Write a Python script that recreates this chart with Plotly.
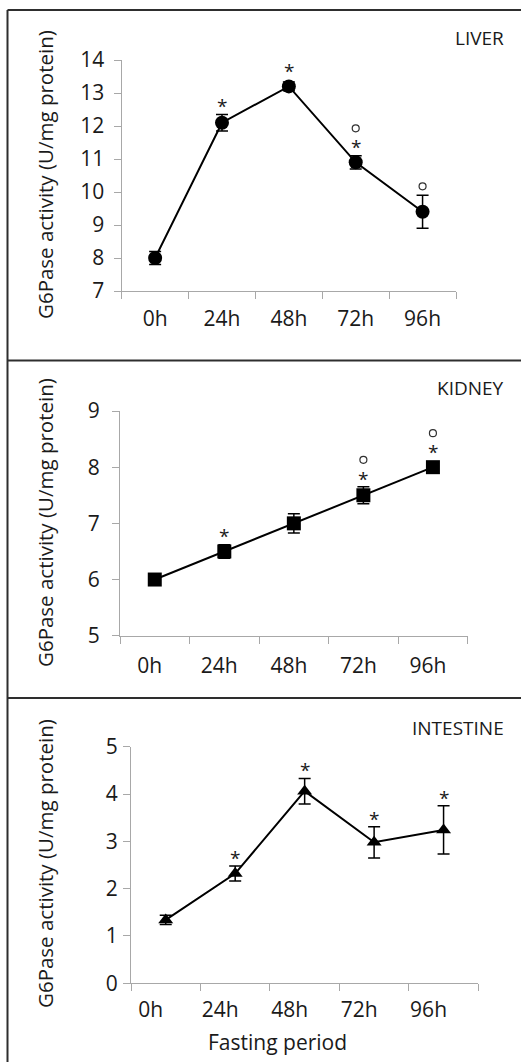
import plotly.graph_objects as go

# ---- data -------------------------------------------------------------
hours = ["0h", "24h", "48h", "72h", "96h"]

liver_mean = [8.0, 12.1, 13.2, 10.9, 9.4]
liver_err = [0.2, 0.25, 0.13, 0.2, 0.5]
liver_star = [0, 1, 1, 1, 0]
liver_circ = [0, 0, 0, 1, 1]

kidney_mean = [6.0, 6.5, 7.0, 7.5, 8.0]
kidney_err = [0.05, 0.12, 0.17, 0.15, 0.05]
kidney_star = [0, 1, 0, 1, 1]
kidney_circ = [0, 0, 0, 1, 1]

intestine_mean = [1.34, 2.32, 4.06, 2.98, 3.24]
intestine_err = [0.1, 0.16, 0.27, 0.33, 0.51]
intestine_star = [0, 1, 1, 1, 1]
intestine_circ = [0, 0, 0, 0, 0]

y_title = "G6Pase activity (U/mg protein)"

# ---- page geometry (pixels) -------------------------------------------
W, H = 521, 1062
FONT = "Open Sans"
TXT = "#1a1a1a"
AXIS = "#a8a8a8"


def px(x):
    return x / W


def py(y):
    return 1 - y / H


panels = [
    dict(name="LIVER", mean=liver_mean, err=liver_err, star=liver_star,
         circ=liver_circ, symbol="circle", yrange=[7, 14],
         box=(121.7, 456, 60, 291), tshift=0, ystand=5, xstand=9,
         title_y=175, label_y=38),
    dict(name="KIDNEY", mean=kidney_mean, err=kidney_err, star=kidney_star,
         circ=kidney_circ, symbol="square", yrange=[5, 9],
         box=(120, 467.7, 411, 635.7), tshift=-5, ystand=8, xstand=11,
         title_y=523, label_y=388),
    dict(name="INTESTINE", mean=intestine_mean, err=intestine_err,
         star=intestine_star, circ=intestine_circ, symbol="triangle-up",
         yrange=[0, 5], box=(131, 478.3, 746.7, 983.3), tshift=-15,
         ystand=1, xstand=7, title_y=864, label_y=728),
]

fig = go.Figure()
annotations = []

for k, p in enumerate(panels, start=1):
    xa = "x" if k == 1 else f"x{k}"
    ya = "y" if k == 1 else f"y{k}"
    x0, x1, y0, y1 = p["box"]
    msize = 13 if p["symbol"] == "triangle-up" else 14
    fig.add_trace(go.Scatter(
        x=hours, y=p["mean"], xaxis=xa, yaxis=ya,
        mode="lines+markers",
        line=dict(color="black", width=2),
        marker=dict(symbol=p["symbol"], size=msize, color="black"),
        error_y=dict(type="data", array=p["err"], visible=True,
                     color="black", thickness=1.5, width=6),
        showlegend=False, cliponaxis=False,
    ))

    lo, hi = p["yrange"]
    ppu = (y1 - y0) / (hi - lo)  # pixels per data unit
    cx, cy = [], []
    for i, h in enumerate(hours):
        top = max(p["err"][i] * ppu, 7)
        if p["star"][i]:
            annotations.append(dict(
                x=h, y=p["mean"][i], xref=xa, yref=ya, text="*",
                showarrow=False, yshift=top + 8, yanchor="middle",
                font=dict(family=FONT, size=19, color=TXT)))
        if p["circ"][i]:
            shift = top + 27 if p["star"][i] else top + 9
            cx.append(h)
            cy.append(p["mean"][i] + shift / ppu)
    if cx:
        # "vs. 48h" markers drawn as small open rings
        fig.add_trace(go.Scatter(
            x=cx, y=cy, xaxis=xa, yaxis=ya, mode="markers",
            marker=dict(symbol="circle-open", size=7, color="#303030",
                        line=dict(width=1.2, color="#303030")),
            showlegend=False, cliponaxis=False, hoverinfo="skip",
        ))

    fig.layout[f"xaxis{'' if k == 1 else k}"] = dict(
        domain=[px(x0), px(x1)], anchor=ya, type="category",
        categoryorder="array", categoryarray=hours,
        range=[-0.5, 4.5], tickson="boundaries", automargin=False,
        ticks="outside", ticklen=7, tickwidth=1, tickcolor=AXIS,
        showline=True, linecolor=AXIS, linewidth=1.3,
        showgrid=False, zeroline=False,
        ticklabelshift=p["tshift"], ticklabelstandoff=p["xstand"],
        tickfont=dict(family=FONT, size=21, color=TXT),
        fixedrange=True,
    )
    fig.layout[f"yaxis{'' if k == 1 else k}"] = dict(
        domain=[py(y1), py(y0)], anchor=xa, range=p["yrange"],
        automargin=False,
        dtick=1, ticks="outside", ticklen=7, tickwidth=1, tickcolor=AXIS,
        showline=True, linecolor=AXIS, linewidth=1.3,
        showgrid=False, zeroline=False,
        ticklabelstandoff=p["ystand"],
        tickfont=dict(family=FONT, size=21, color=TXT),
        fixedrange=True,
    )

    annotations.append(dict(
        x=px(45), y=py(p["title_y"]), xref="paper", yref="paper",
        text=y_title, textangle=-90, showarrow=False,
        xanchor="center", yanchor="middle",
        font=dict(family=FONT, size=20.5, color=TXT)))
    annotations.append(dict(
        x=px(506), y=py(p["label_y"]), xref="paper", yref="paper",
        text=p["name"], showarrow=False, xanchor="right", yanchor="middle",
        font=dict(family=FONT, size=19, color=TXT)))

annotations.append(dict(
    x=px(277), y=py(1042), xref="paper", yref="paper",
    text="Fasting period", showarrow=False,
    xanchor="center", yanchor="middle",
    font=dict(family=FONT, size=21, color=TXT)))

# panel frames
BORDER = dict(color="#2e2e2e", width=2)
shapes = [
    dict(type="line", xref="paper", yref="paper",
         x0=px(7.5), x1=1, y0=py(10), y1=py(10), line=BORDER),
    dict(type="line", xref="paper", yref="paper",
         x0=px(7.5), x1=px(7.5), y0=py(10), y1=0, line=BORDER),
    dict(type="line", xref="paper", yref="paper",
         x0=px(7.5), x1=1, y0=py(360.5), y1=py(360.5), line=BORDER),
    dict(type="line", xref="paper", yref="paper",
         x0=px(7.5), x1=1, y0=py(698), y1=py(698), line=BORDER),
]

fig.update_layout(
    width=W, height=H, margin=dict(l=0, r=0, t=0, b=0, pad=0),
    autosize=False,
    paper_bgcolor="white", plot_bgcolor="white",
    font=dict(family=FONT, color=TXT),
    annotations=annotations, shapes=shapes,
)

fig.write_html("out.html", config={"displayModeBar": False})
